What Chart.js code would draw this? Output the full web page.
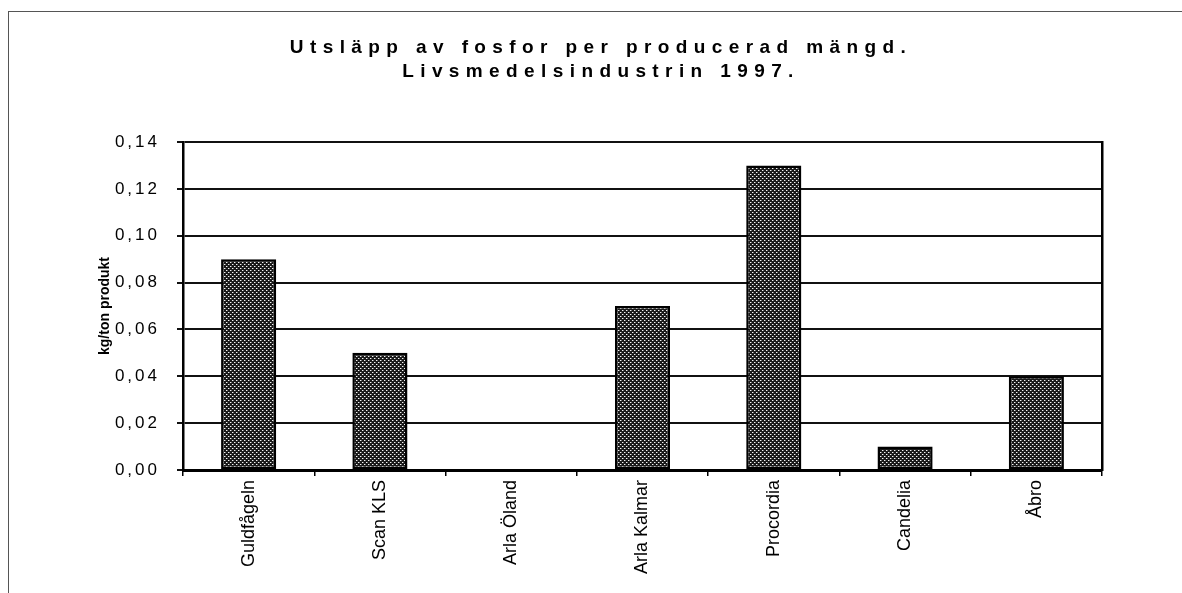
<!DOCTYPE html>
<html lang="sv">
  <head>
    <meta charset="UTF-8" />
    <title>Utsläpp av fosfor per producerad mängd</title>
    <script src="https://cdn.jsdelivr.net/npm/chart.js@4"></script>
    <style>
      html, body { margin:0; padding:0; background:#fff; overflow:hidden; }
      #wrap { position:relative; width:1182px; height:593px; }
      /* frame of the scanned page, only top and left edges are visible */
      #frame {
        position:absolute; left:8px; top:11px; width:1400px; height:800px;
        border-top:1px solid #555; border-left:1px solid #555;
      }
      #myChart { position:absolute; left:0; top:0; }
    </style>
  </head>
  <body>
    <div id="wrap">
      <div id="frame"></div>
      <canvas id="myChart" width="1182" height="593"></canvas>
    </div>

    <script>
      const titleLines = ['Utsläpp av fosfor per producerad mängd.', 'Livsmedelsindustrin 1997.'];
      const yAxisTitle = 'kg/ton produkt';
      const categories = ['Guldfågeln', 'Scan KLS', 'Arla Öland', 'Arla Kalmar', 'Procordia', 'Candelia', 'Åbro'];
      const values = [0.09, 0.05, 0, 0.07, 0.13, 0.01, 0.04];
      const yTickLabels = ['0,00', '0,02', '0,04', '0,06', '0,08', '0,10', '0,12', '0,14'];

      // dotted fill like the old printed bars
      function makePattern() {
        const c = document.createElement('canvas');
        c.width = 4; c.height = 4;
        const g = c.getContext('2d');
        g.fillStyle = '#1a1a1a';
        g.fillRect(0, 0, 4, 4);
        g.fillStyle = '#f4f4f4';
        g.fillRect(0, 0, 1, 1);
        g.fillRect(2, 2, 1, 1);
        g.fillStyle = '#777';
        g.fillRect(1, 0, 1, 1);
        g.fillRect(3, 2, 1, 1);
        return g.createPattern(c, 'repeat');
      }

      // wrap a draw method so its text gets letter spacing
      function spaced(obj, fn, sp) {
        if (!obj || obj['_sp_' + fn]) return;
        const orig = obj[fn];
        obj[fn] = function (...a) {
          const c = this.ctx;
          c.save();
          c.letterSpacing = sp;
          orig.apply(this, a);
          c.letterSpacing = '0px';
          c.restore();
        };
        obj['_sp_' + fn] = true;
      }

      const spacingPlugin = {
        id: 'spacing',
        afterLayout(chart) {
          spaced(chart.titleBlock, 'draw', '6.4px');
          spaced(chart.scales.y, 'drawLabels', '3px');
        }
      };

      Chart.defaults.font.family = '"Liberation Sans", Arial, sans-serif';
      Chart.defaults.color = '#000';

      const ctx = document.getElementById('myChart').getContext('2d');
      const myChart = new Chart(ctx, {
        type: 'bar',
        data: {
          labels: categories,
          datasets: [
            {
              data: values,
              backgroundColor: makePattern(),
              borderColor: '#000',
              borderWidth: 2.5,
              borderSkipped: false,
              barPercentage: 0.42,
              categoryPercentage: 1
            }
          ]
        },
        options: {
          responsive: false,
          animation: false,
          layout: { padding: { left: 30, right: 10, top: 0, bottom: 0 } },
          plugins: {
            legend: { display: false },
            tooltip: { enabled: false },
            title: {
              display: true,
              text: titleLines,
              color: '#000',
              font: { size: 19, weight: 'bold', lineHeight: 24 / 19 },
              padding: { top: 36, bottom: 58 }
            }
          },
          scales: {
            x: {
              afterFit: s => { s.height = 123; },
              grid: { offset: true, drawOnChartArea: false, drawTicks: true, tickLength: 6, color: '#000', lineWidth: 1.5 },
              border: { color: '#000', width: 3 },
              ticks: { minRotation: 90, maxRotation: 90, padding: 4, font: { size: 18 }, color: '#000' }
            },
            y: {
              min: 0,
              max: 0.14,
              afterFit: s => { s.width = 153; },
              ticks: {
                stepSize: 0.02,
                padding: 17,
                font: { size: 17 },
                color: '#000',
                callback: (v, i) => yTickLabels[i]
              },
              grid: { color: '#111', lineWidth: 2, tickLength: 6 },
              border: { color: '#000', width: 2.5 },
              title: {
                display: true,
                text: yAxisTitle,
                font: { size: 14, weight: 'bold' },
                color: '#000',
                padding: { top: 66.6, bottom: 0 }
              }
            },
            yR: {
              position: 'right',
              min: 0,
              max: 0.14,
              afterFit: s => { s.width = 70; },
              ticks: { display: false },
              grid: { drawOnChartArea: false, drawTicks: false },
              border: { color: '#000', width: 2.5 }
            }
          }
        },
        plugins: [spacingPlugin]
      });
    </script>
  </body>
</html>
